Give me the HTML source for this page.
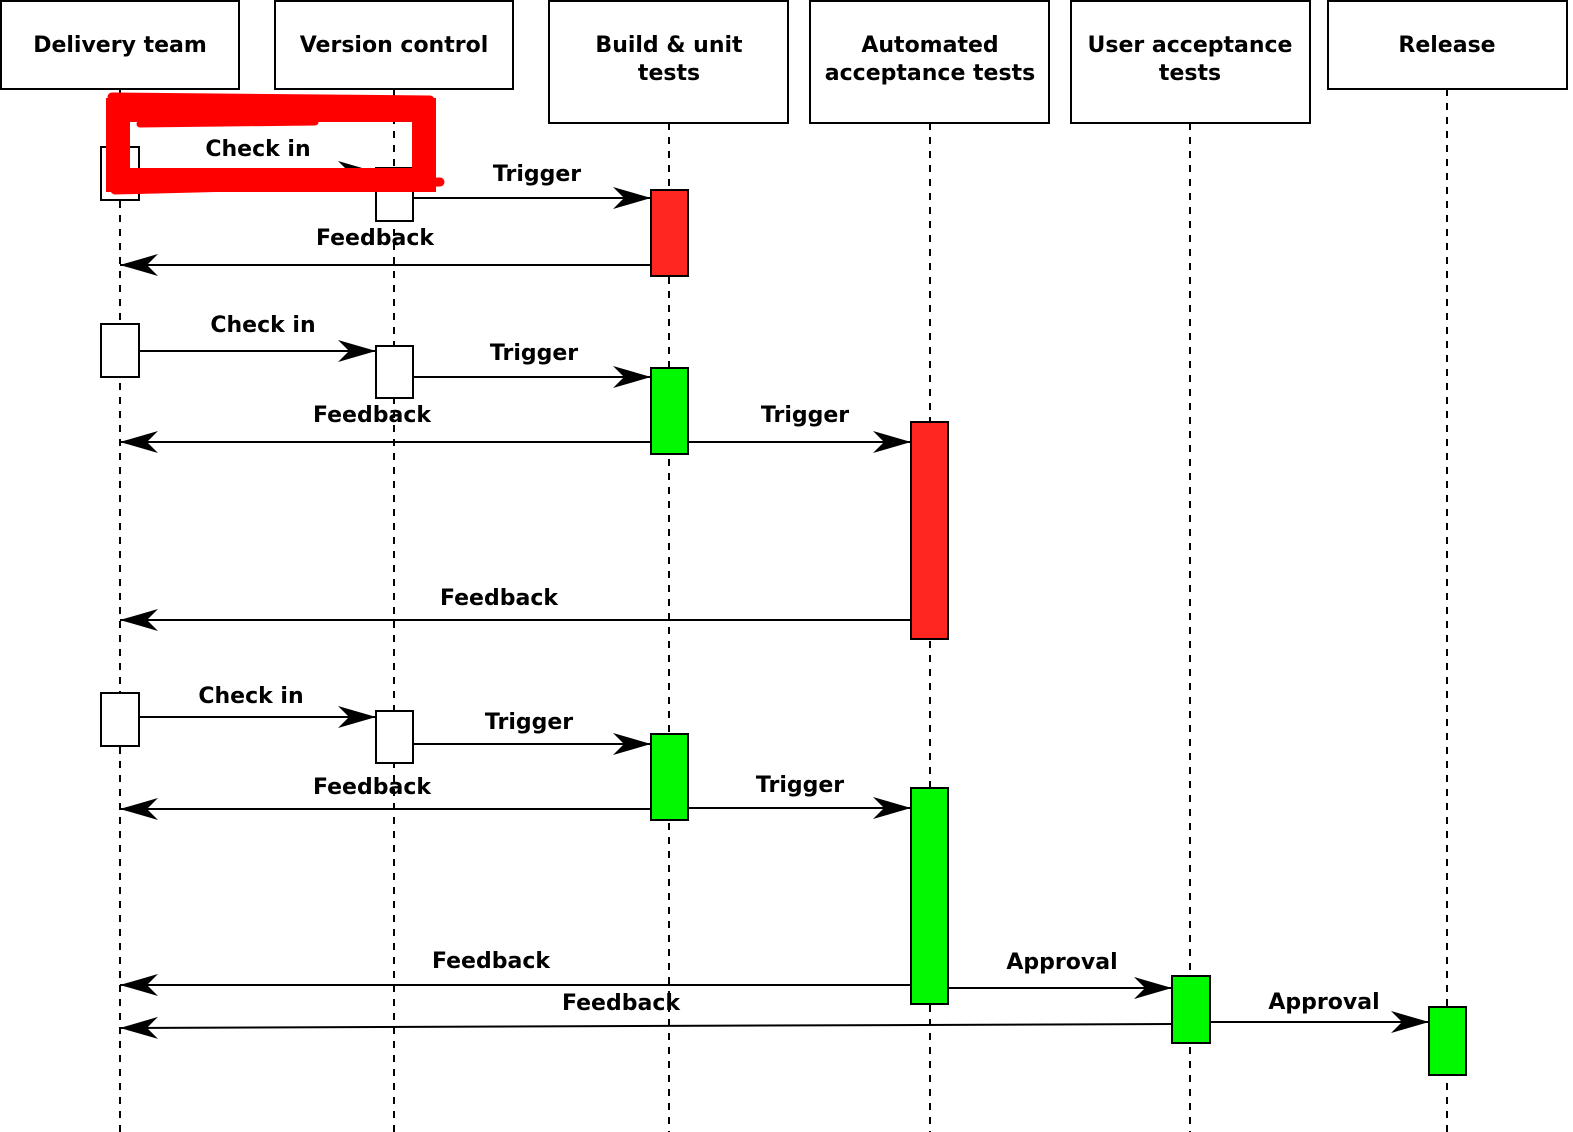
<!DOCTYPE html>
<html><head><meta charset="utf-8"><style>html,body{margin:0;background:#fff;overflow:hidden;width:1573px;height:1132px}svg{display:block}text{font-family:"DejaVu Sans","Liberation Sans",sans-serif;font-weight:bold;font-size:22px;fill:#000;text-anchor:middle}</style></head><body>
<svg width="1573" height="1132" viewBox="0 0 1573 1132" xmlns="http://www.w3.org/2000/svg">
<defs>
<marker id="a" markerUnits="userSpaceOnUse" markerWidth="40" markerHeight="26" refX="38" refY="13" orient="auto"><path d="M0,2 L38,13 L0,24 L11,13 Z" fill="#000"/></marker>
</defs>
<g stroke="#000" stroke-width="2" stroke-dasharray="7,7">
<line x1="120" y1="89" x2="120" y2="1132"/><line x1="394" y1="89" x2="394" y2="1132"/><line x1="669" y1="123" x2="669" y2="1132"/><line x1="930" y1="123" x2="930" y2="1132"/><line x1="1190" y1="123" x2="1190" y2="1132"/><line x1="1447" y1="89" x2="1447" y2="1132"/>
</g>
<g fill="#fff" stroke="#000" stroke-width="2">
<rect x="1" y="1" width="238" height="88"/><rect x="275" y="1" width="238" height="88"/><rect x="549" y="1" width="239" height="122"/><rect x="810" y="1" width="239" height="122"/><rect x="1071" y="1" width="239" height="122"/><rect x="1328" y="1" width="239" height="88"/>
</g>
<text x="120" y="52">Delivery team</text><text x="394" y="52">Version control</text>
<text x="669" y="52">Build &amp; unit</text><text x="669" y="80">tests</text>
<text x="930" y="52">Automated</text><text x="930" y="80">acceptance tests</text>
<text x="1190" y="52">User acceptance</text><text x="1190" y="80">tests</text>
<text x="1447" y="52">Release</text>
<g stroke="#000" stroke-width="2" marker-end="url(#a)">
<line x1="139" y1="172" x2="376" y2="172"/><line x1="413" y1="198" x2="651" y2="198"/><line x1="651" y1="265" x2="120" y2="265"/>
<line x1="139" y1="351" x2="376" y2="351"/><line x1="413" y1="377" x2="651" y2="377"/><line x1="651" y1="442" x2="120" y2="442"/><line x1="688" y1="442" x2="911" y2="442"/><line x1="911" y1="620" x2="120" y2="620"/>
<line x1="139" y1="717" x2="376" y2="717"/><line x1="413" y1="744" x2="651" y2="744"/><line x1="651" y1="809" x2="120" y2="809"/><line x1="688" y1="808" x2="911" y2="808"/><line x1="911" y1="985" x2="120" y2="985"/><line x1="948" y1="988" x2="1172" y2="988"/><line x1="1172" y1="1024" x2="120" y2="1028"/><line x1="1210" y1="1022" x2="1429" y2="1022"/>
</g>
<g stroke="#000" stroke-width="2">
<rect x="101" y="147" width="38" height="53" fill="#fff"/><rect x="376" y="168" width="37" height="53" fill="#fff"/><rect x="651" y="190" width="37" height="86" fill="#ff2520"/>
<rect x="101" y="324" width="38" height="53" fill="#fff"/><rect x="376" y="346" width="37" height="52" fill="#fff"/><rect x="651" y="368" width="37" height="86" fill="#00f800"/><rect x="911" y="422" width="37" height="217" fill="#ff2520"/>
<rect x="101" y="693" width="38" height="53" fill="#fff"/><rect x="376" y="711" width="37" height="52" fill="#fff"/><rect x="651" y="734" width="37" height="86" fill="#00f800"/><rect x="911" y="788" width="37" height="216" fill="#00f800"/><rect x="1172" y="976" width="38" height="67" fill="#00f800"/><rect x="1429" y="1007" width="37" height="68" fill="#00f800"/>
</g>
<text x="258" y="156">Check in</text><text x="537" y="181">Trigger</text><text x="375" y="245">Feedback</text>
<text x="263" y="332">Check in</text><text x="534" y="360">Trigger</text><text x="372" y="422">Feedback</text><text x="805" y="422">Trigger</text><text x="499" y="605">Feedback</text>
<text x="251" y="703">Check in</text><text x="529" y="729">Trigger</text><text x="372" y="794">Feedback</text><text x="800" y="792">Trigger</text><text x="491" y="968">Feedback</text><text x="1062" y="969">Approval</text><text x="621" y="1010">Feedback</text><text x="1324" y="1009">Approval</text>
<g fill="none" stroke="#f00" stroke-linecap="round">
<rect x="118" y="110" width="306" height="70" stroke-width="24"/>
<line x1="112" y1="97" x2="430" y2="100" stroke-width="9"/>
<line x1="115" y1="190" x2="440" y2="182" stroke-width="9"/>
<line x1="140" y1="124" x2="315" y2="122" stroke-width="7"/>
</g>
</svg>
</body></html>
